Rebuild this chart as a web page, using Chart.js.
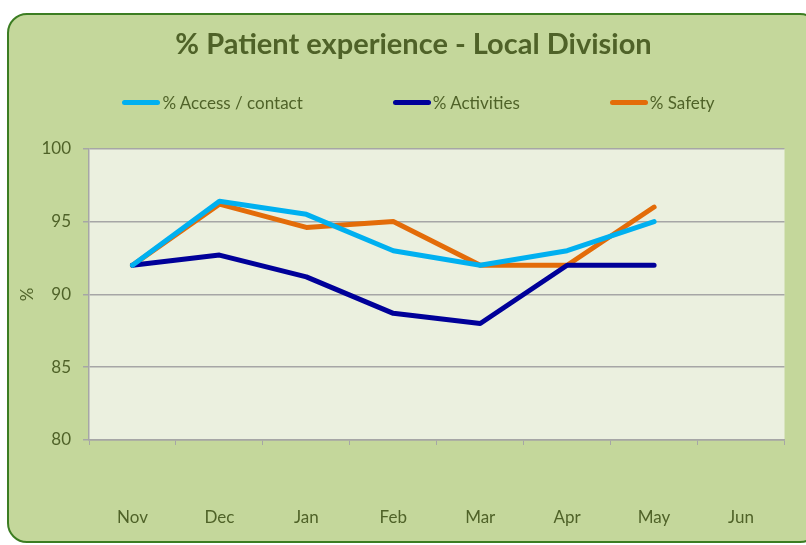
<!DOCTYPE html>
<html lang="en">
<head>
    <meta charset="UTF-8">
    <title>% Patient experience - Local Division</title>
    <script src="https://cdn.jsdelivr.net/npm/chart.js"></script>
    <style>
        html, body {
            margin: 0;
            padding: 0;
            width: 806px;
            height: 545px;
            overflow: hidden;
            background: #ffffff;
            font-family: Lato, "Open Sans", sans-serif;
        }
        .chart-box {
            position: absolute;
            left: 7px;
            top: 13px;
            width: 809px;
            height: 526px;
            border: 2px solid #3c7d22;
            border-radius: 20px;
            background: #c4d79b;
        }
        .chart-box canvas {
            position: absolute;
            left: 0;
            top: 0;
        }
        #legend {
            position: absolute;
            left: 10px;
            top: 77px;
            width: 799px;
            display: flex;
            justify-content: center;
            gap: 90px;
            font-size: 17px;
            color: #4f6228;
        }
        .legend-item {
            display: flex;
            align-items: center;
        }
        .legend-line {
            width: 38px;
            height: 5px;
            border-radius: 3px;
            margin-right: 2px;
        }
    </style>
</head>
<body>
    <div class="chart-box">
        <canvas id="patientChart" width="809" height="526"></canvas>
        <div id="legend"></div>
    </div>

    <script>
        // values (Jun has no data yet)
        const months = ['Nov', 'Dec', 'Jan', 'Feb', 'Mar', 'Apr', 'May', 'Jun'];
        const accessContact = [92, 96.4, 95.5, 93, 92, 93, 95, null];
        const activities = [92, 92.7, 91.2, 88.7, 88, 92, 92, null];
        const safety = [92, 96.2, 94.6, 95, 92, 92, 96, null];
        const yTicks = [80, 85, 90, 95, 100];

        const seriesNames = ['% Access / contact', '% Activities', '% Safety'];
        const seriesColors = ['#00b0f0', '#000099', '#e36c09'];
        const textColor = '#4f6228';
        const gridColor = '#a6a6a6';

        const datasets = [accessContact, activities, safety].map((values, i) => ({
            label: seriesNames[i],
            data: values,
            borderColor: seriesColors[i],
            backgroundColor: seriesColors[i],
            borderWidth: 5,
            borderCapStyle: 'round',
            borderJoinStyle: 'round',
            pointRadius: 0,
            tension: 0
        }));

        // light plot area behind the lines
        const plotBackground = {
            id: 'plotBackground',
            beforeDraw(chart) {
                const { ctx, chartArea } = chart;
                ctx.save();
                ctx.fillStyle = '#ebf0df';
                ctx.fillRect(chartArea.left, chartArea.top, chartArea.right - chartArea.left, chartArea.bottom - chartArea.top);
                ctx.restore();
            }
        };

        const ctx = document.getElementById('patientChart').getContext('2d');
        const patientChart = new Chart(ctx, {
            type: 'line',
            data: {
                labels: months,
                datasets: datasets
            },
            plugins: [plotBackground],
            options: {
                responsive: false,
                animation: false,
                // equal side padding keeps the title centred on the whole box
                layout: {
                    padding: { left: 32, right: 32, top: 0, bottom: 0 }
                },
                scales: {
                    x: {
                        offset: true,
                        grid: {
                            offset: true,
                            drawOnChartArea: false,
                            drawTicks: true,
                            tickLength: 5,
                            color: gridColor
                        },
                        border: { color: gridColor, width: 1.5 },
                        ticks: {
                            color: textColor,
                            padding: 62,
                            font: { family: 'Lato', size: 17 }
                        },
                        afterFit(scale) {
                            scale.height = 101;
                        }
                    },
                    y: {
                        min: 80,
                        max: 100,
                        afterBuildTicks(scale) {
                            scale.ticks = yTicks.map(v => ({ value: v }));
                        },
                        grid: {
                            color: gridColor,
                            lineWidth: 1.5,
                            tickLength: 6
                        },
                        border: { color: gridColor, width: 1.5 },
                        ticks: {
                            color: textColor,
                            padding: 12,
                            font: { family: 'Lato', size: 17 }
                        },
                        title: {
                            display: true,
                            text: '%',
                            color: textColor,
                            padding: { top: -24, bottom: 0 },
                            font: { family: 'Lato', size: 17 }
                        },
                        afterFit(scale) {
                            scale.width = 48;
                        }
                    }
                },
                plugins: {
                    legend: { display: false },
                    tooltip: { enabled: false },
                    title: {
                        display: true,
                        text: '% Patient experience - Local Division',
                        color: textColor,
                        font: { family: 'Lato', size: 29, weight: 'bold', lineHeight: 1.2 },
                        padding: { top: 12, bottom: 87 }
                    }
                }
            }
        });

        // legend built from the datasets so the items can be spread like the original
        const legendEl = document.getElementById('legend');
        patientChart.data.datasets.forEach(ds => {
            const item = document.createElement('div');
            item.className = 'legend-item';
            const line = document.createElement('span');
            line.className = 'legend-line';
            line.style.background = ds.borderColor;
            const label = document.createElement('span');
            label.textContent = ds.label;
            item.appendChild(line);
            item.appendChild(label);
            legendEl.appendChild(item);
        });
    </script>
</body>
</html>
